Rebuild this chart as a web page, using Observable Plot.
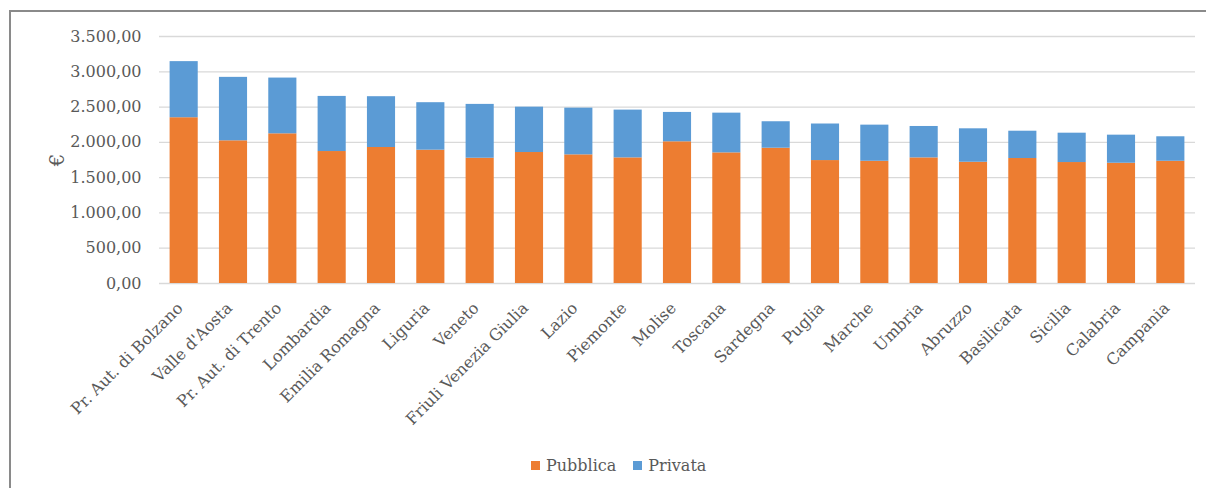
<!DOCTYPE html>
<html>
<head>
<meta charset="utf-8">
<script src="https://cdn.jsdelivr.net/npm/d3@7"></script>
<script src="https://cdn.jsdelivr.net/npm/@observablehq/plot@0.6"></script>
<style>
  html, body { margin: 0; padding: 0; background: #fff; }
  #wrap { position: relative; width: 1206px; height: 488px; overflow: hidden; }
  #frame { position: absolute; left: 9px; top: 10px; width: 1400px; height: 700px; border: 2px solid #8a8a8a; box-sizing: border-box; pointer-events: none; z-index: 2; }
  #chart { position: absolute; left: 0; top: 0; }
  #legend { position: absolute; top: 456px; left: 531px; font: 16px "DejaVu Serif", serif; color: #595959; display: flex; align-items: center; white-space: nowrap; }
  #legend span.sw { display: inline-block; width: 9px; height: 9px; margin-right: 6px; }
  #legend span.item { display: inline-flex; align-items: center; margin-right: 17px; }
</style>
</head>
<body>
<div id="wrap">
  <div id="chart"></div>
  <div id="legend"></div>
  <div id="frame"></div>
</div>
<script>
const regions = ["Pr. Aut. di Bolzano", "Valle d'Aosta", "Pr. Aut. di Trento", "Lombardia", "Emilia Romagna", "Liguria", "Veneto", "Friuli Venezia Giulia", "Lazio", "Piemonte", "Molise", "Toscana", "Sardegna", "Puglia", "Marche", "Umbria", "Abruzzo", "Basilicata", "Sicilia", "Calabria", "Campania"];
const pubblica = [2349, 2022, 2121, 1870, 1927, 1889, 1775, 1856, 1823, 1780, 2008, 1851, 1917, 1742, 1732, 1780, 1718, 1771, 1714, 1704, 1732];
const privata  = [795, 899, 790, 781, 720, 673, 763, 643, 662, 677, 416, 563, 375, 518, 512, 445, 474, 387, 416, 398, 347];
const series = ["Pubblica", "Privata"];
const colors = ["#ED7D31", "#5B9BD5"];
const yTicks = [0, 500, 1000, 1500, 2000, 2500, 3000, 3500];

const rows = [];
regions.forEach((r, i) => {
  rows.push({region: r, series: series[0], value: pubblica[i]});
  rows.push({region: r, series: series[1], value: privata[i]});
});

const it = d3.formatLocale({decimal: ",", thousands: ".", grouping: [3], currency: ["", "€"]});
const fmt = it.format(",.2f");

const chart = Plot.plot({
  width: 1206,
  height: 445,
  marginLeft: 159,
  marginRight: 11,
  marginTop: 36,
  marginBottom: 162,
  style: {fontFamily: "DejaVu Serif", fontSize: "16px", color: "#595959", background: "transparent", overflow: "visible"},
  x: {domain: regions, paddingInner: 0.43, paddingOuter: 0.215, round: false},
  y: {domain: [0, 3500]},
  color: {domain: series, range: colors},
  marks: [
    Plot.ruleY(yTicks, {stroke: "#d9d9d9", strokeWidth: 1.3}),
    Plot.barY(rows, {x: "region", y: "value", fill: "series", order: series}),
    Plot.axisY({ticks: yTicks, tickFormat: fmt, tickSize: 0, tickPadding: 18, label: null, fill: "#595959"}),
    Plot.axisY({ticks: [], tickSize: 0, label: "€", labelAnchor: "center", labelArrow: "none", labelOffset: 110, fontSize: 20, fill: "#595959"}),
    Plot.axisX({tickRotate: -45, tickSize: 0, tickPadding: 14, dx: -4, dy: 8, label: null, fill: "#595959"})
  ]
});
document.getElementById("chart").appendChild(chart);

const leg = document.getElementById("legend");
series.forEach((s, i) => {
  const item = document.createElement("span");
  item.className = "item";
  const sw = document.createElement("span");
  sw.className = "sw";
  sw.style.background = colors[i];
  item.appendChild(sw);
  item.appendChild(document.createTextNode(s));
  leg.appendChild(item);
});
</script>
</body>
</html>
